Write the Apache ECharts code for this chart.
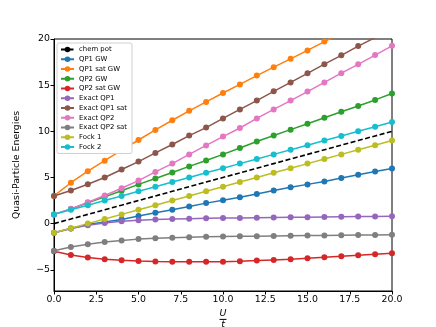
<!DOCTYPE html>
<html lang="en">
  <head>
    <meta charset="UTF-8" />
    <title>Quasi-Particle Energies</title>
    <style>
      html, body { margin: 0; padding: 0; background: #fff; }
      #main { width: 436px; height: 327px; }
    </style>
  </head>
  <body>
    <div id="main"></div>
    <script src="https://cdn.jsdelivr.net/npm/echarts@6/dist/echarts.min.js"></script>
    <script>
      // U/t values (x axis)
      const uVals = [0, 1, 2, 3, 4, 5, 6, 7, 8, 9, 10, 11, 12, 13, 14, 15, 16, 17, 18, 19, 20]
      const yTicks = [-5, 0, 5, 10, 15, 20]

      const chemPot = [0, 0.5, 1, 1.5, 2, 2.5, 3, 3.5, 4, 4.5, 5, 5.5, 6, 6.5, 7, 7.5, 8, 8.5, 9, 9.5, 10]
      const qp1GW = [-1.0, -0.52, -0.1, 0.18, 0.45, 0.82, 1.18, 1.5, 1.86, 2.22, 2.54, 2.86, 3.22, 3.58, 3.93, 4.25, 4.57, 4.93, 5.29, 5.65, 5.97]
      const qp1SatGW = [3.0, 4.43, 5.68, 6.82, 7.95, 9.06, 10.15, 11.2, 12.22, 13.18, 14.15, 15.08, 16.04, 16.95, 17.85, 18.76, 19.72, 20.65, 21.55, 22.45, 23.35]
      const qp2GW = [1.0, 1.58, 2.25, 2.9, 3.56, 4.25, 4.88, 5.54, 6.2, 6.84, 7.5, 8.19, 8.9, 9.54, 10.18, 10.82, 11.47, 12.11, 12.75, 13.4, 14.1]
      const qp2SatGW = [-3.0, -3.39, -3.68, -3.86, -3.96, -4.04, -4.1, -4.13, -4.14, -4.14, -4.13, -4.07, -4.0, -3.93, -3.86, -3.75, -3.64, -3.54, -3.43, -3.32, -3.21]
      const exactQP1 = [-1.0, -0.53, -0.18, 0.07, 0.26, 0.36, 0.45, 0.5, 0.54, 0.57, 0.6, 0.62, 0.64, 0.66, 0.68, 0.7, 0.72, 0.74, 0.76, 0.78, 0.8]
      const exactQP1Sat = [3.0, 3.58, 4.27, 5.0, 5.86, 6.72, 7.66, 8.57, 9.54, 10.4, 11.4, 12.37, 13.33, 14.33, 15.3, 16.28, 17.27, 18.23, 19.23, 20.15, 21.1]
      const exactQP2 = [1.0, 1.6, 2.32, 3.04, 3.83, 4.66, 5.6, 6.5, 7.5, 8.47, 9.43, 10.36, 11.4, 12.37, 13.33, 14.3, 15.3, 16.3, 17.26, 18.26, 19.26]
      const exactQP2Sat = [-2.95, -2.53, -2.23, -1.98, -1.83, -1.68, -1.58, -1.52, -1.47, -1.43, -1.4, -1.38, -1.36, -1.34, -1.32, -1.3, -1.28, -1.26, -1.24, -1.22, -1.21]
      const fock1 = [-1, -0.5, 0, 0.5, 1, 1.5, 2, 2.5, 3, 3.5, 4, 4.5, 5, 5.5, 6, 6.5, 7, 7.5, 8, 8.5, 9]
      const fock2 = [1, 1.5, 2, 2.5, 3, 3.5, 4, 4.5, 5, 5.5, 6, 6.5, 7, 7.5, 8, 8.5, 9, 9.5, 10, 10.5, 11]

      const lines = [
        { name: 'QP1 GW', data: qp1GW, color: '#1f77b4' },
        { name: 'QP1 sat GW', data: qp1SatGW, color: '#ff7f0e' },
        { name: 'QP2 GW', data: qp2GW, color: '#2ca02c' },
        { name: 'QP2 sat GW', data: qp2SatGW, color: '#d62728' },
        { name: 'Exact QP1', data: exactQP1, color: '#9467bd' },
        { name: 'Exact QP1 sat', data: exactQP1Sat, color: '#8c564b' },
        { name: 'Exact QP2', data: exactQP2, color: '#e377c2' },
        { name: 'Exact QP2 sat', data: exactQP2Sat, color: '#7f7f7f' },
        { name: 'Fock 1', data: fock1, color: '#bcbd22' },
        { name: 'Fock 2', data: fock2, color: '#17becf' }
      ]

      const pairs = arr => uVals.map((u, i) => [u, arr[i]])
      const font = 'DejaVu Sans'

      let series = [
        {
          name: 'chem pot',
          type: 'line',
          data: pairs(chemPot),
          symbol: 'none',
          lineStyle: { color: '#000', width: 1.6, type: [5, 2.5] },
          itemStyle: { color: '#000' }
        }
      ]
      lines.forEach(l => {
        series.push({
          name: l.name,
          type: 'line',
          data: pairs(l.data),
          symbol: 'circle',
          symbolSize: 6,
          lineStyle: { color: l.color, width: 1.5 },
          itemStyle: { color: l.color }
        })
      })

      let myChart = echarts.init(document.getElementById('main'))
      let option = {
        animation: false,
        textStyle: { fontFamily: font },
        grid: {
          left: 54, right: 44, top: 39, bottom: 36,
          outerBoundsMode: 'none',
          containLabel: false,
          show: true, borderColor: '#000', borderWidth: 1
        },
        legend: {
          orient: 'vertical',
          left: 57,
          top: 43,
          padding: [3, 5, 3, 3],
          itemWidth: 13,
          itemHeight: 7,
          itemGap: 2.75,
          backgroundColor: '#fff',
          borderColor: '#d0d0d0',
          borderWidth: 1,
          borderRadius: 2,
          textStyle: { fontSize: 6.9, fontFamily: font, color: '#000', lineHeight: 7 },
          data: ['chem pot'].concat(lines.map(l => l.name))
        },
        xAxis: {
          type: 'value',
          min: 0,
          max: 20,
          interval: 2.5,
          name: '{u|U}\n{bar| }\n{t|t}',
          nameLocation: 'middle',
          nameGap: 17,
          nameTextStyle: {
            rich: {
              u: { fontSize: 9.5, fontStyle: 'italic', fontFamily: font, color: '#000', lineHeight: 9 },
              bar: { width: 7, height: 1, backgroundColor: '#000', lineHeight: 2, fontSize: 1 },
              t: { fontSize: 9.5, fontStyle: 'italic', fontFamily: font, color: '#000', lineHeight: 9 }
            }
          },
          splitLine: { show: false },
          axisLine: { onZero: false, lineStyle: { color: '#000', width: 1 } },
          axisTick: { length: 3.5, lineStyle: { color: '#000' } },
          axisLabel: {
            fontSize: 9.4, color: '#000', margin: 4,
            formatter: v => v.toFixed(1)
          }
        },
        yAxis: {
          type: 'value',
          min: -7.3,
          max: 20,
          name: 'Quasi-Particle Energies',
          nameLocation: 'middle',
          nameGap: 33,
          nameTextStyle: { fontSize: 9.4, color: '#000' },
          splitLine: { show: false },
          axisLine: { show: true, onZero: false, lineStyle: { color: '#000', width: 1 } },
          axisTick: { show: true, length: 3.5, lineStyle: { color: '#000' }, customValues: yTicks },
          axisLabel: {
            fontSize: 9.4, color: '#000', margin: 4,
            customValues: yTicks,
            formatter: v => (v < 0 ? '\u2212' + Math.abs(v) : String(v))
          }
        },
        series: series
      }
      myChart.setOption(option)
    </script>
  </body>
</html>
